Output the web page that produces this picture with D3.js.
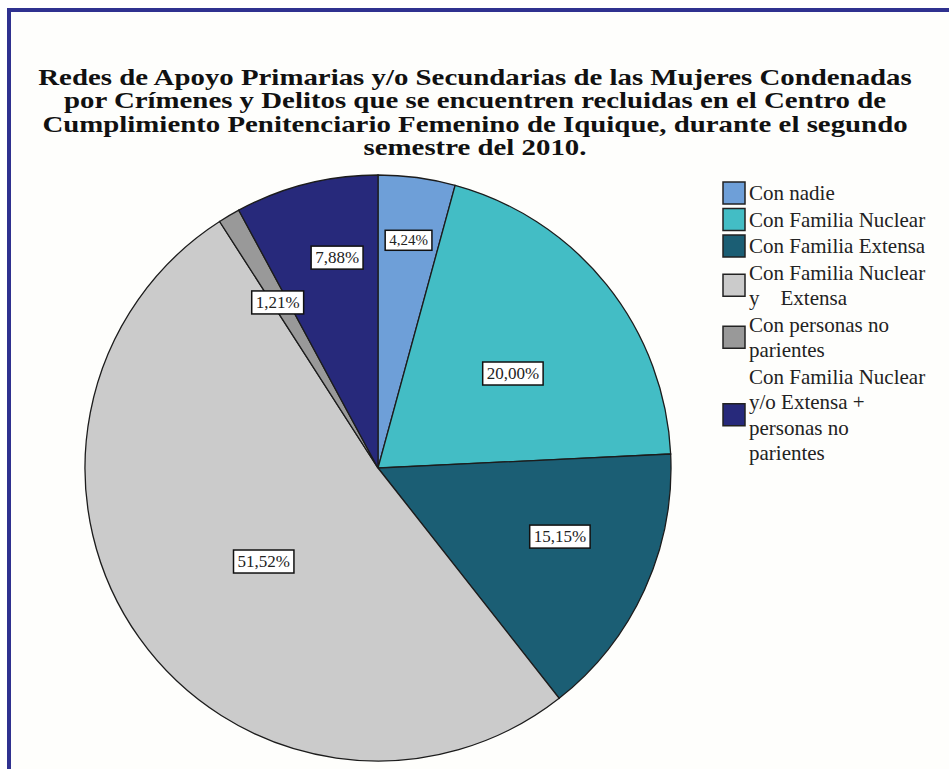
<!DOCTYPE html>
<html>
<head>
<meta charset="utf-8">
<script src="https://cdn.jsdelivr.net/npm/d3@7"></script>
<style>
  body { margin: 0; background: #fff; }
  text { font-family: "Liberation Serif", "Times New Roman", serif; }
</style>
</head>
<body>
<div id="chart"></div>
<script>
const titleLines = [
  "Redes de Apoyo Primarias y/o Secundarias de las Mujeres Condenadas",
  "por Crímenes y Delitos que se encuentren recluidas en el Centro de",
  "Cumplimiento Penitenciario Femenino de Iquique, durante el segundo",
  "semestre del 2010."
];

const categories = [
  "Con nadie",
  "Con Familia Nuclear",
  "Con Familia Extensa",
  "Con Familia Nuclear y Extensa",
  "Con personas no parientes",
  "Con Familia Nuclear y/o Extensa + personas no parientes"
];

// legend text as it wraps in the original
const legendLines = [
  ["Con nadie"],
  ["Con Familia Nuclear"],
  ["Con Familia Extensa"],
  ["Con Familia Nuclear", "y    Extensa"],
  ["Con personas no", "parientes"],
  ["Con Familia Nuclear", "y/o Extensa +", "personas no", "parientes"]
];

const percents = [4.24, 20.00, 15.15, 51.52, 1.21, 7.88];

const colors = ["#6e9fd8", "#43bdc5", "#1b5e74", "#cbcbcb", "#999999", "#27297b"];

// where each % box sits in its slice: fraction of radius, and turn (deg) off the mid angle
const labelRadius = [0.785, 0.563, 0.663, 0.503, 0.662, 0.733];
const labelTurn = [0, 3.6, -4, -3.7, -0.6, 3.2];

const width = 949, height = 769;
const cx = 378, cy = 468, radius = 293;

const svg = d3.select("#chart").append("svg")
  .attr("width", width)
  .attr("height", height);

// frame (only top and left edges show in the picture)
svg.append("rect")
  .attr("x", 9).attr("y", 10)
  .attr("width", 1200).attr("height", 1200)
  .attr("fill", "#fefefc")
  .attr("stroke", "#2f318f")
  .attr("stroke-width", 4);

// title
const title = svg.append("g");
title.selectAll("text")
  .data(titleLines)
  .enter()
  .append("text")
  .attr("x", 0)
  .attr("y", (d, i) => 85 + i * 23.5)
  .attr("text-anchor", "middle")
  .style("font-weight", "bold")
  .style("font-size", "23px")
  .attr("fill", "#111")
  .text(d => d);

const firstW = title.select("text").node().getComputedTextLength();
const sx = 874 / firstW;
title.attr("transform", "translate(475,0) scale(" + sx + ",1)");

// pie
const pie = d3.pie().sort(null).value(d => d);
const arcs = pie(percents);
const arc = d3.arc().innerRadius(0).outerRadius(radius);

const g = svg.append("g").attr("transform", "translate(" + cx + "," + cy + ")");

g.selectAll("path.slice")
  .data(arcs)
  .enter()
  .append("path")
  .attr("class", "slice")
  .attr("d", arc)
  .attr("fill", (d, i) => colors[i])
  .attr("stroke", "#1c1c1c")
  .style("stroke-width", "1.3px");

const fmt = v => v.toFixed(2).replace(".", ",") + "%";

const labels = g.selectAll("g.lbl")
  .data(arcs)
  .enter()
  .append("g")
  .attr("class", "lbl")
  .attr("transform", (d, i) => {
    const a = (d.startAngle + d.endAngle) / 2 + labelTurn[i] * Math.PI / 180;
    const r = radius * labelRadius[i];
    return "translate(" + (Math.sin(a) * r) + "," + (-Math.cos(a) * r) + ")";
  });

labels.append("text")
  .attr("text-anchor", "middle")
  .attr("dy", "0.35em")
  .style("font-size", (d, i) => i === 0 ? "15px" : "17px")
  .attr("fill", "#222")
  .text(d => fmt(d.data));

labels.each(function () {
  const el = d3.select(this);
  const b = el.select("text").node().getBBox();
  el.insert("rect", "text")
    .attr("x", b.x - 4)
    .attr("y", b.y - 2)
    .attr("width", b.width + 8)
    .attr("height", b.height + 4)
    .attr("fill", "#fff")
    .attr("stroke", "#111")
    .style("stroke-width", "1.5px");
});

// legend
const lineH = 25.5;
const legend = svg.append("g").attr("transform", "translate(723,0)");
let y = 193;
legendLines.forEach((lines, i) => {
  const mid = y + (lines.length - 1) * lineH / 2;
  legend.append("rect")
    .attr("x", 0).attr("y", mid - 11)
    .attr("width", 22).attr("height", 22)
    .attr("fill", colors[i])
    .attr("stroke", "#222")
    .style("stroke-width", "1.5px");
  lines.forEach((t, j) => {
    legend.append("text")
      .attr("x", 26)
      .attr("y", y + j * lineH)
      .attr("dy", "0.35em")
      .style("font-size", "21px")
      .style("white-space", "pre")
      .attr("fill", "#222")
      .text(t);
  });
  y += lines.length * lineH + 1;
});
</script>
</body>
</html>
